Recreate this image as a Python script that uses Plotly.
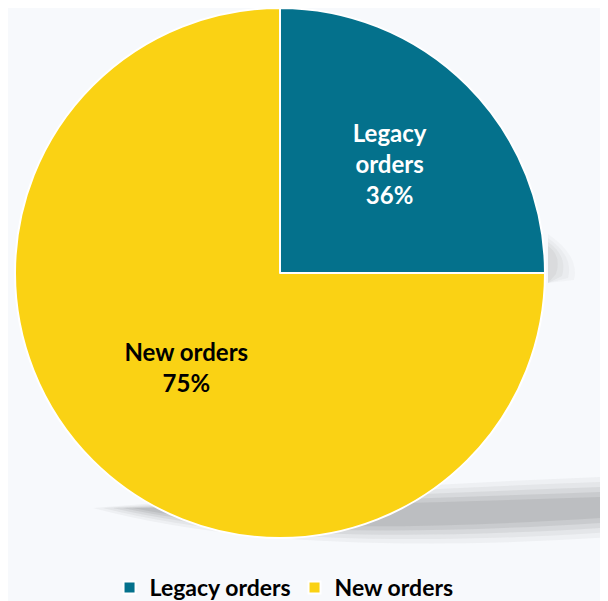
import plotly.graph_objects as go

labels = ["Legacy orders", "New orders"]
values = [25, 75]
label_text = ["Legacy<br>orders", "New orders"]
pct_text = ["36%", "75%"]
colors = ["#04718c", "#fad214"]
text_colors = ["#ffffff", "#000000"]

W, H = 608, 601
fig = go.Figure()

# soft shadow beneath the pie (decorative)
for i, op in enumerate([0.06, 0.08, 0.10, 0.12, 0.14]):
    g = i * 5
    fig.add_shape(type="path",
                  path=f"M {85+g*2} {500} Q {280} {552-g} {620} {528-g} L 620 {468+g} Q {350} {478+g} {85+g*2} {500} Z",
                  xref="x", yref="y", fillcolor=f"rgba(110,110,110,{op})",
                  line=dict(width=0), layer="below")
for i, op in enumerate([0.04, 0.05, 0.06, 0.07]):
    g = i * 4
    fig.add_shape(type="path",
                  path=f"M 540 {226+g} Q {572-g*1.5} {248} {566-g*1.5} {272-g/2} L 540 {275} Z",
                  xref="x", yref="y", fillcolor=f"rgba(110,110,110,{op})",
                  line=dict(width=0), layer="below")

fig.add_trace(go.Pie(
    labels=labels,
    values=values,
    text=[f"{a}<br>{b}" for a, b in zip(label_text, pct_text)],
    textinfo="text",
    textposition="inside",
    insidetextorientation="horizontal",
    sort=False,
    direction="clockwise",
    rotation=0,
    marker=dict(colors=colors, line=dict(color="#ffffff", width=2)),
    textfont=dict(family="Lato, Open Sans, sans-serif", size=24, color=text_colors, weight="bold"),
    domain=dict(x=[5/W, 539/W], y=[1-530/H, 1-0/H]),
    hoverinfo="label+percent",
))

fig.update_layout(
    width=W, height=H,
    margin=dict(l=0, r=0, t=0, b=0),
    paper_bgcolor="#f7f9fc",
    plot_bgcolor="rgba(0,0,0,0)",
    xaxis=dict(range=[0, W], visible=False, fixedrange=True),
    yaxis=dict(range=[H, 0], visible=False, fixedrange=True),
    showlegend=True,
    legend=dict(orientation="h", x=0.167, xanchor="left", y=0.0, yanchor="bottom",
                font=dict(family="Lato, Open Sans, sans-serif", size=23, color="#000000", weight="bold"),
                bgcolor="rgba(0,0,0,0)", itemwidth=30, traceorder="normal",
                entrywidth=140, entrywidthmode="pixels",
                itemsizing="constant"),
)

fig.write_html("out.html")
